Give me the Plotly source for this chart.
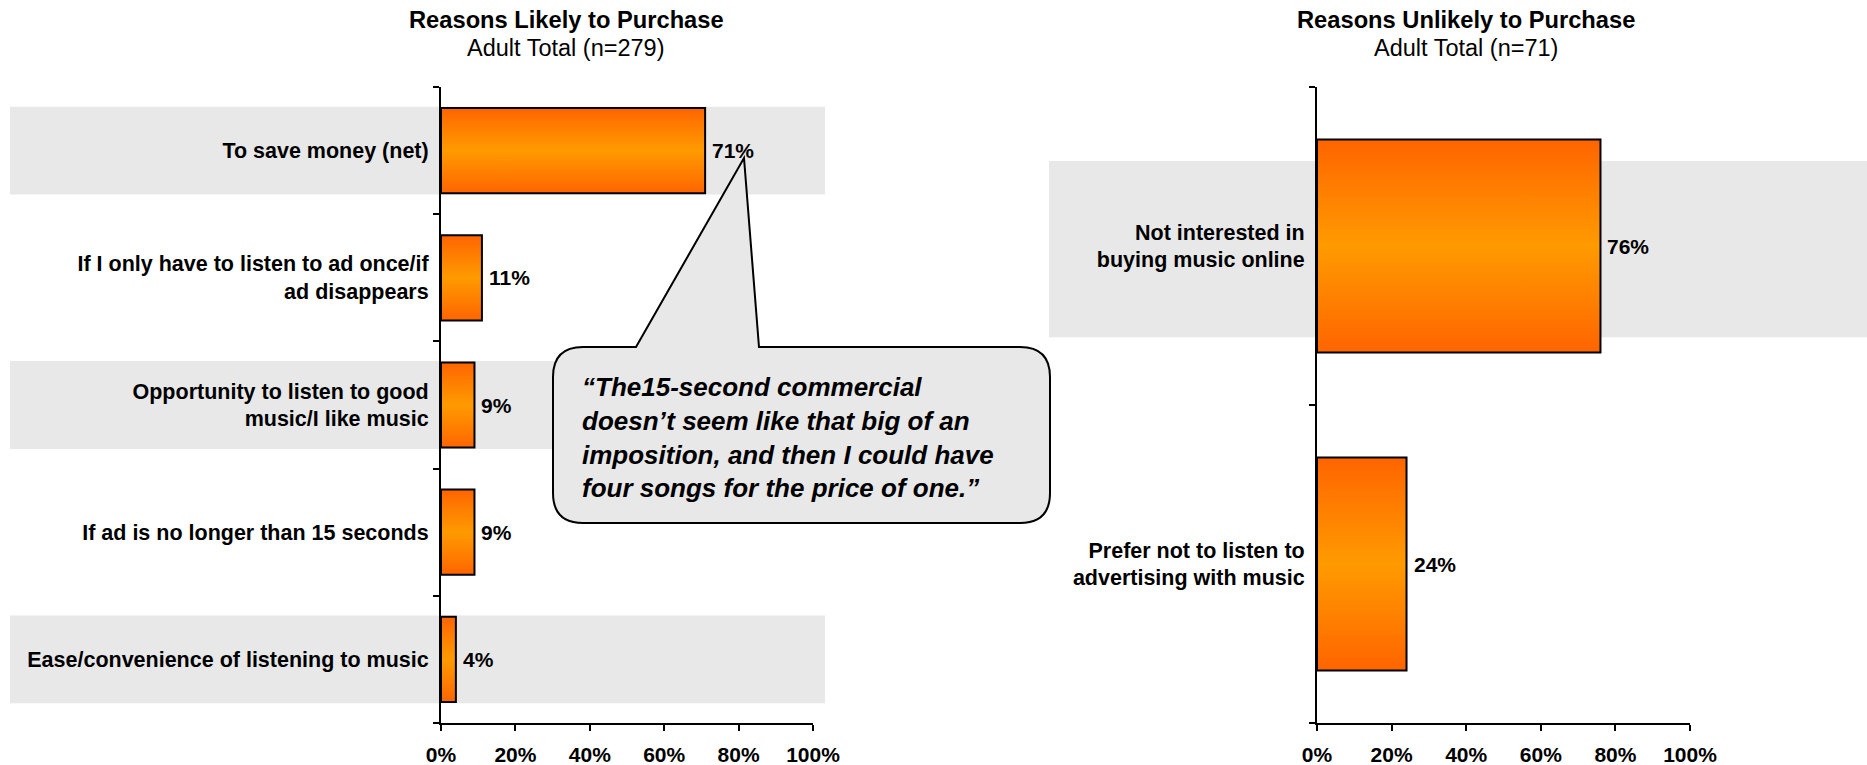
import plotly.graph_objects as go

# ---- data ---------------------------------------------------------------
likely_title = "Reasons Likely to Purchase"
likely_subtitle = "Adult Total (n=279)"
likely_reasons = [
    "To save money (net)",
    "If I only have to listen to ad once/if<br>ad disappears",
    "Opportunity to listen to good<br>music/I like music",
    "If ad is no longer than 15 seconds",
    "Ease/convenience of listening to music",
]
likely_pct = [71, 11, 9, 9, 4]

unlikely_title = "Reasons Unlikely to Purchase"
unlikely_subtitle = "Adult Total (n=71)"
unlikely_reasons = [
    "Not interested in<br>buying music online",
    "Prefer not to listen to<br>advertising with music",
]
unlikely_pct = [76, 24]

pct_ticks = [0, 20, 40, 60, 80, 100]
pct_tick_labels = ["0%", "20%", "40%", "60%", "80%", "100%"]

quote_lines = [
    "\u201cThe15-second commercial",
    "doesn\u2019t seem like that big of an",
    "imposition, and then I could have",
    "four songs for the price of one.\u201d",
]

# ---- styling ------------------------------------------------------------
W, H = 1867, 765
FONT = "Arial, 'Liberation Sans', sans-serif"
BAND_GRAY = "#E8E8E8"
BAR_HALF = 0.335
BAR_GRADIENT = [[0, "#FF6400"], [0.25, "#FF8000"], [0.5, "#FF9A00"],
                [0.75, "#FF8000"], [1, "#FF6400"]]
LABEL_SIZE = 21.5


def fx(p):
    """pixel column -> paper x"""
    return p / W


def fy(p):
    """pixel row (from top) -> paper y"""
    return 1 - p / H


fig = go.Figure()


def add_bars(values, xa, ya):
    for i, v in enumerate(values):
        fig.add_trace(go.Scatter(
            x=[0, v, v, 0, 0],
            y=[i - BAR_HALF, i - BAR_HALF, i + BAR_HALF, i + BAR_HALF, i - BAR_HALF],
            xaxis=xa, yaxis=ya, mode="lines", fill="toself",
            fillgradient=dict(type="vertical", colorscale=BAR_GRADIENT),
            line=dict(color="black", width=2),
            hoverinfo="skip", showlegend=False,
        ))


add_bars(likely_pct, "x", "y")
add_bars(unlikely_pct, "x2", "y2")

y_dom = [fy(723), fy(87)]


def x_axis(domain, anchor):
    return dict(
        domain=domain, anchor=anchor, range=[0, 100], automargin=False,
        tickmode="array", tickvals=pct_ticks, ticktext=pct_tick_labels,
        ticks="outside", ticklen=6, tickwidth=2, tickcolor="black",
        showline=True, linecolor="black", linewidth=2,
        showgrid=False, zeroline=False, fixedrange=True,
        tickfont=dict(family=FONT, size=21, color="black", weight="bold"),
        ticklabelstandoff=6,
    )


def y_axis(labels, anchor):
    n = len(labels)
    return dict(
        domain=y_dom, anchor=anchor, range=[n - 0.5, -0.5], automargin=False,
        tickmode="array", tickvals=list(range(n)), ticktext=labels,
        ticks="", showline=True, linecolor="black", linewidth=2,
        showgrid=False, zeroline=False, fixedrange=True,
        tickfont=dict(family=FONT, size=LABEL_SIZE, color="black", weight="bold"),
        ticklabelstandoff=6,
        minor=dict(tickmode="array", tickvals=[k - 0.5 for k in range(n + 1)],
                   ticks="outside", ticklen=6, tickwidth=2, tickcolor="black",
                   showgrid=False),
    )


shapes = []
# shaded row bands
for i in (0, 2, 4):
    shapes.append(dict(type="rect", xref="paper", yref="y", layer="below",
                       x0=fx(10), x1=fx(825), y0=i - 0.345, y1=i + 0.345,
                       fillcolor=BAND_GRAY, line=dict(width=0)))
shapes.append(dict(type="rect", xref="paper", yref="y2", layer="below",
                   x0=fx(1049), x1=1.0, y0=0.01 - 0.277, y1=0.01 + 0.277,
                   fillcolor=BAND_GRAY, line=dict(width=0)))

# speech bubble with pointer
L, R, T, B, r = 553, 1050, 347, 523, 30
pts = [
    ("M", (L + r, T)), ("L", (636, T)), ("L", (744, 158)), ("L", (759, T)),
    ("L", (R - r, T)), ("Q", (R, T), (R, T + r)), ("L", (R, B - r)),
    ("Q", (R, B), (R - r, B)), ("L", (L + r, B)), ("Q", (L, B), (L, B - r)),
    ("L", (L, T + r)), ("Q", (L, T), (L + r, T)),
]
path = ""
for cmd, *coords in pts:
    path += cmd + " ".join(f"{fx(a):.5f},{fy(b):.5f}" for a, b in coords) + " "
path += "Z"
shapes.append(dict(type="path", xref="paper", yref="paper", layer="above",
                   path=path, fillcolor=BAND_GRAY,
                   line=dict(color="black", width=2)))

annotations = []
# titles
for cx, title, sub in ((566, likely_title, likely_subtitle),
                       (1466, unlikely_title, unlikely_subtitle)):
    annotations.append(dict(xref="paper", yref="paper", x=fx(cx), y=fy(20),
                            xanchor="center", yanchor="middle", showarrow=False,
                            text=f"<b>{title}</b>",
                            font=dict(family=FONT, size=23.7, color="black")))
    annotations.append(dict(xref="paper", yref="paper", x=fx(cx), y=fy(48),
                            xanchor="center", yanchor="middle", showarrow=False,
                            text=sub,
                            font=dict(family=FONT, size=23.5, color="black")))

# value labels
for xa, ya, vals in (("x", "y", likely_pct), ("x2", "y2", unlikely_pct)):
    for i, v in enumerate(vals):
        annotations.append(dict(xref=xa, yref=ya, x=v, y=i, xanchor="left",
                                yanchor="middle", xshift=5, showarrow=False,
                                text=f"<b>{v}%</b>",
                                font=dict(family=FONT, size=21, color="black")))

# quote inside the bubble
annotations.append(dict(xref="paper", yref="paper", x=fx(580), y=fy(437),
                        xanchor="left", yanchor="middle", align="left",
                        showarrow=False,
                        text="<b><i>" + "<br>".join(quote_lines) + "</i></b>",
                        font=dict(family=FONT, size=26, color="black")))

fig.update_layout(
    width=W, height=H, margin=dict(l=0, r=0, t=0, b=0, autoexpand=False),
    paper_bgcolor="white", plot_bgcolor="white", showlegend=False,
    font=dict(family=FONT, color="black"),
    xaxis=x_axis([fx(441), fx(813)], "y"),
    yaxis=y_axis(likely_reasons, "x"),
    xaxis2=x_axis([fx(1317), fx(1690)], "y2"),
    yaxis2=y_axis(unlikely_reasons, "x2"),
    shapes=shapes, annotations=annotations,
)

fig.write_html("out.html")
